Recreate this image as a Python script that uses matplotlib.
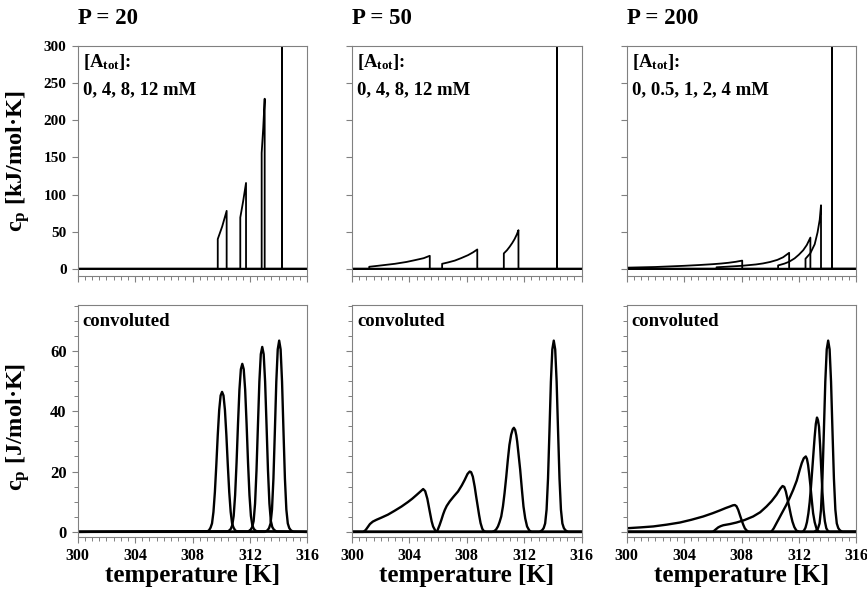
import matplotlib
matplotlib.use('Agg')
import matplotlib.pyplot as plt
from matplotlib.ticker import MultipleLocator

plt.rcParams['font.family'] = 'serif'
plt.rcParams['font.serif'] = ['Liberation Serif', 'DejaVu Serif']
plt.rcParams['font.weight'] = 'bold'
plt.rcParams['mathtext.fontset'] = 'custom'
plt.rcParams['mathtext.rm'] = 'Liberation Serif:bold'
plt.rcParams['mathtext.it'] = 'Liberation Serif:bold'
plt.rcParams['mathtext.bf'] = 'Liberation Serif:bold'

# ---- raw cp curves [kJ/mol/K], top row ----
# P = 20 ; 12, 8, 4, 0 mM
t20_12 = [300, 309.76, 309.76, 310.07, 310.38, 310.38, 316]
cp20_12 = [0, 0, 40, 57, 78, 0, 0]
t20_8 = [300, 311.33, 311.33, 311.53, 311.73, 311.73, 316]
cp20_8 = [0, 0, 69, 91, 115.6, 0, 0]
t20_4 = [300, 312.82, 312.82, 312.93, 313.03, 313.03, 316]
cp20_4 = [0, 0, 156, 190, 229, 0, 0]
t20_0 = [300, 314.27, 314.27, 314.27, 316]
cp20_0 = [0, 0, 340, 0, 0]

# P = 50 ; 12, 8, 4, 0 mM
t50_12 = [300, 301.2, 301.2, 301.8, 302.99, 303.8, 304.38, 305.0, 305.42, 305.42, 316]
cp50_12 = [0, 0, 2.7, 4, 6.7, 9.2, 11.6, 14.3, 17.5, 0, 0]
t50_8 = [300, 306.28, 306.28, 306.7, 307.16, 307.6, 308.08, 308.45, 308.73, 308.73, 316]
cp50_8 = [0, 0, 6.7, 8.6, 11, 14.3, 18.3, 22.3, 26, 0, 0]
t50_4 = [300, 310.58, 310.58, 310.8, 310.98, 311.16, 311.33, 311.48, 311.6, 311.6, 316]
cp50_4 = [0, 0, 20.7, 25, 29.5, 34.5, 40, 46, 52, 0, 0]
t50_0 = [300, 314.29, 314.29, 314.29, 316]
cp50_0 = [0, 0, 340, 0, 0]

# P = 200 ; 4, 2, 1, 0.5, 0 mM
t200_4 = [300, 302, 304, 305, 306, 306.6, 307.1, 307.6, 308.05, 308.05, 316]
cp200_4 = [1.5, 2.4, 4, 5, 6.2, 7.1, 8.1, 9.4, 11, 0, 0]
t200_2 = [300, 306.26, 306.26, 307, 308, 309, 309.5, 310, 310.5, 310.9, 311.32, 311.32, 316]
cp200_2 = [0, 0, 2, 2.8, 4, 5.8, 7.2, 9.2, 12, 15.5, 21.5, 0, 0]
t200_1 = [300, 310.55, 310.55, 311.0, 311.32, 311.7, 312.0, 312.3, 312.55, 312.8, 312.8, 316]
cp200_1 = [0, 0, 4.5, 7, 9.5, 14, 19, 25, 32, 42, 0, 0]
t200_05 = [300, 312.46, 312.46, 312.8, 313.1, 313.3, 313.45, 313.54, 313.54, 316]
cp200_05 = [0, 0, 13.5, 21, 33, 49, 66, 85.5, 0, 0]
t200_0 = [300, 314.29, 314.29, 314.29, 316]
cp200_0 = [0, 0, 340, 0, 0]

# ---- convoluted cp curves [J/mol/K], bottom row ----
# P = 20
c20_t12 = [300, 309.06, 309.16, 309.26, 309.36, 309.46, 309.56, 309.66, 309.76, 309.86, 309.96, 310.06,
           310.16, 310.26, 310.36, 310.46, 310.56, 310.66, 310.76, 310.86, 310.96, 311.06, 316]
c20_cp12 = [0, 0.2, 0.6, 1.4, 2.8, 6.6, 13.2, 22.2, 32.1, 40.4, 45.2, 46.4,
            45.2, 40.4, 32.1, 22.2, 13.2, 6.6, 2.8, 1.4, 0.6, 0.2, 0]
c20_t8 = [300, 310.47, 310.57, 310.67, 310.77, 310.87, 310.97, 311.07, 311.17, 311.27, 311.37, 311.47,
          311.57, 311.67, 311.77, 311.87, 311.97, 312.07, 312.17, 312.27, 312.37, 312.47, 316]
c20_cp8 = [0, 0.2, 0.5, 1.0, 2.2, 5.3, 12.2, 22.9, 35.7, 47.1, 53.9, 55.7,
           53.9, 47.1, 35.7, 22.9, 12.2, 5.3, 2.2, 1.0, 0.5, 0.2, 0]
c20_t4 = [300, 311.86, 311.96, 312.06, 312.16, 312.26, 312.36, 312.46, 312.56, 312.66, 312.76, 312.86,
          312.96, 313.06, 313.16, 313.26, 313.36, 313.46, 313.56, 313.66, 313.76, 313.86, 316]
c20_cp4 = [0, 0.1, 0.4, 0.8, 1.6, 3.6, 9.4, 20.4, 35.3, 49.8, 58.9, 61.3,
           58.9, 49.8, 35.3, 20.4, 9.4, 3.6, 1.6, 0.8, 0.4, 0.1, 0]
c20_t0 = [300, 313.04, 313.14, 313.24, 313.34, 313.44, 313.54, 313.64, 313.74, 313.84, 313.94, 314.04,
          314.14, 314.24, 314.34, 314.44, 314.54, 314.64, 314.74, 314.84, 314.94, 315.04, 316]
c20_cp0 = [0, 0, 0.25, 0.6, 1.3, 2.8, 7.4, 17.7, 33.4, 49.8, 60.5, 63.4,
           60.5, 49.8, 33.4, 17.7, 7.4, 2.8, 1.3, 0.6, 0.25, 0, 0]

# P = 50
c50_t12 = [300, 300.79, 300.95, 301.1, 301.25, 301.45, 301.7, 302.04, 302.5, 302.97, 303.45, 303.9,
           304.2, 304.49, 304.75, 304.96, 305.1, 305.25, 305.42, 305.55, 305.65, 305.84, 306.0, 316]
c50_cp12 = [0, 0, 0.6, 1.6, 2.6, 3.4, 4.0, 4.7, 5.7, 7.0, 8.4, 9.9,
            11.0, 12.2, 13.3, 14.2, 13.5, 11.0, 6.7, 3.5, 1.8, 0.1, 0, 0]
c50_t8 = [300, 305.85, 305.95, 306.1, 306.23, 306.35, 306.46, 306.6, 306.81, 307.1, 307.39, 307.65,
          307.85, 308.05, 308.2, 308.3, 308.42, 308.55, 308.65, 308.75, 308.86, 308.96, 309.08, 309.2,
          309.35, 316]
c50_cp8 = [0, 0, 0.4, 2.2, 4.0, 5.8, 7.2, 8.6, 10.1, 11.8, 13.4, 15.4,
           17.2, 19.2, 20.0, 19.8, 18.3, 15.0, 11.8, 8.8, 5.5, 2.9, 1.0, 0.2,
           0, 0]
c50_t4 = [300, 309.75, 309.89, 310.03, 310.17, 310.28, 310.4, 310.52, 310.63, 310.75, 310.86, 310.97,
          311.09, 311.2, 311.28, 311.37, 311.45, 311.51, 311.6, 311.72, 311.85, 311.95, 312.07, 312.2,
          312.35, 312.5, 316]
c50_cp4 = [0, 0, 0.2, 0.7, 1.8, 3.2, 5.1, 8.5, 12.8, 18.3, 23.9, 28.8,
           32.2, 34.0, 34.5, 33.8, 32.0, 30.0, 26.0, 20.6, 13.5, 8.4, 4.5, 1.8,
           0.5, 0, 0]
c50_t0 = [300, 313.06, 313.16, 313.26, 313.36, 313.46, 313.56, 313.66, 313.76, 313.86, 313.96, 314.06,
          314.16, 314.26, 314.36, 314.46, 314.56, 314.66, 314.76, 314.86, 314.96, 315.06, 316]
c50_cp0 = [0, 0, 0.25, 0.6, 1.3, 2.8, 7.4, 17.7, 33.4, 49.8, 60.5, 63.4,
           60.5, 49.8, 33.4, 17.7, 7.4, 2.8, 1.3, 0.6, 0.25, 0, 0]

# P = 200
c200_t4 = [300, 301, 301.85, 302.8, 303.71, 304.5, 305.33, 306.0, 306.49, 306.9, 307.19, 307.4,
           307.54, 307.65, 307.77, 307.88, 308.0, 308.12, 308.23, 308.35, 308.47, 308.6, 316]
c200_cp4 = [1.2, 1.5, 1.8, 2.4, 3.1, 4.0, 5.1, 6.2, 7.1, 7.9, 8.4, 8.8,
            8.9, 8.5, 7.3, 5.7, 4.0, 2.4, 1.2, 0.5, 0.1, 0, 0]
c200_t2 = [300, 305.9, 306.03, 306.2, 306.38, 306.55, 306.73, 307.2, 307.65, 308.2, 308.81, 309.3,
           309.74, 310.1, 310.44, 310.7, 310.86, 310.98, 311.09, 311.2, 311.32, 311.44, 311.55, 311.68,
           311.83, 312.06, 316]
c200_cp2 = [0, 0, 0.1, 0.8, 1.5, 1.9, 2.2, 2.6, 3.1, 3.9, 5.1, 6.5,
            8.4, 10.2, 12.3, 14.3, 15.2, 14.9, 13.4, 11.0, 8.4, 5.6, 3.4, 1.6,
            0.4, 0, 0]
c200_t1 = [300, 309.95, 310.09, 310.25, 310.44, 310.6, 310.79, 311.13, 311.35, 311.6, 311.85, 312.06,
           312.2, 312.34, 312.48, 312.56, 312.64, 312.72, 312.81, 312.9, 312.99, 313.1, 313.22, 313.35,
           313.45, 316]
c200_cp1 = [0, 0, 0.1, 1.2, 2.9, 4.3, 6.0, 9.0, 11.2, 13.9, 17.0, 20.6,
            22.8, 24.4, 25.0, 24.2, 22.2, 19.0, 15.0, 10.4, 6.2, 3.2, 1.2, 0.3,
            0, 0]
c200_t05 = [300, 312.25, 312.36, 312.46, 312.56, 312.66, 312.75, 312.84, 312.93, 313.02, 313.1, 313.18,
            313.26, 313.33, 313.4, 313.48, 313.56, 313.64, 313.72, 313.81, 313.91, 314.02, 314.14, 316]
c200_cp05 = [0, 0, 0.5, 1.4, 3.2, 6.1, 9.8, 14.8, 20.6, 26.5, 31.6, 35.8,
             37.9, 37.0, 34.9, 28.5, 20.6, 13.0, 7.3, 3.5, 1.2, 0.3, 0, 0]
c200_t0 = [300, 313.04, 313.14, 313.24, 313.34, 313.44, 313.54, 313.64, 313.74, 313.84, 313.94, 314.04,
           314.14, 314.24, 314.34, 314.44, 314.54, 314.64, 314.74, 314.84, 314.94, 315.04, 316]
c200_cp0 = [0, 0, 0.25, 0.6, 1.3, 2.8, 7.4, 17.7, 33.4, 49.8, 60.5, 63.4,
            60.5, 49.8, 33.4, 17.7, 7.4, 2.8, 1.3, 0.6, 0.25, 0, 0]

titles = ['P = 20', 'P = 50', 'P = 200']
conc_labels = ['0, 4, 8, 12 mM', '0, 4, 8, 12 mM', '0, 0.5, 1, 2, 4 mM']

raw_curves = [
    [(t20_12, cp20_12), (t20_8, cp20_8), (t20_4, cp20_4), (t20_0, cp20_0)],
    [(t50_12, cp50_12), (t50_8, cp50_8), (t50_4, cp50_4), (t50_0, cp50_0)],
    [(t200_4, cp200_4), (t200_2, cp200_2), (t200_1, cp200_1), (t200_05, cp200_05), (t200_0, cp200_0)],
]
conv_curves = [
    [(c20_t12, c20_cp12), (c20_t8, c20_cp8), (c20_t4, c20_cp4), (c20_t0, c20_cp0)],
    [(c50_t12, c50_cp12), (c50_t8, c50_cp8), (c50_t4, c50_cp4), (c50_t0, c50_cp0)],
    [(c200_t4, c200_cp4), (c200_t2, c200_cp2), (c200_t1, c200_cp1), (c200_t05, c200_cp05), (c200_t0, c200_cp0)],
]

fig = plt.figure(figsize=(8.67, 5.91), dpi=100)
W, H = 867, 591
lefts = [77.7, 352, 626.7]
ax_w = 229.6
spine_col = '#808080'

for i in range(3):
    ax_top = fig.add_axes([lefts[i] / W, 1 - 276.5 / H, ax_w / W, 230.5 / H])
    ax_bot = fig.add_axes([lefts[i] / W, 1 - 537 / H, ax_w / W, 232 / H])

    for t, cp in raw_curves[i]:
        ax_top.plot(t, cp, color='black', lw=1.3)
    for t, cp in conv_curves[i]:
        ax_bot.plot(t, cp, color='black', lw=1.7)

    ax_top.set_ylim(-10.4, 300)
    ax_bot.set_ylim(-1.7, 75.2)
    for ax in (ax_top, ax_bot):
        ax.set_xlim(300, 316)
        ax.xaxis.set_major_locator(MultipleLocator(4))
        ax.xaxis.set_minor_locator(MultipleLocator(0.5))
        for s in ax.spines.values():
            s.set_color(spine_col)
            s.set_linewidth(0.8)
        ax.tick_params(which='major', direction='out', length=4.5, width=0.8, color=spine_col,
                       top=False, right=False)
        ax.tick_params(which='minor', direction='out', length=3, width=0.7, color=spine_col,
                       top=False, right=False)
    ax_top.yaxis.set_major_locator(MultipleLocator(50))
    ax_bot.yaxis.set_major_locator(MultipleLocator(20))
    ax_bot.yaxis.set_minor_locator(MultipleLocator(5))

    ax_top.tick_params(axis='x', labelbottom=False)
    ax_top.tick_params(axis='y', labelsize=11)
    ax_bot.tick_params(axis='y', labelsize=12)
    ax_bot.tick_params(axis='x', labelsize=11.5)
    if i > 0:
        ax_top.tick_params(axis='y', labelleft=False)
        ax_bot.tick_params(axis='y', labelleft=False)
    else:
        ax_top.set_ylabel(r'c$_\mathrm{p}$ [kJ/mol·K]', fontsize=17.5, fontweight='bold')
        ax_top.yaxis.set_label_coords(-0.2, 0.5)
        ax_bot.set_ylabel(r'c$_\mathrm{p}$ [J/mol·K]', fontsize=17.5, fontweight='bold')
        ax_bot.yaxis.set_label_coords(-0.2, 0.475)

    ax_bot.set_xlabel('temperature [K]', fontsize=18, fontweight='bold')
    ax_bot.xaxis.set_label_coords(0.5, -0.115)

    ax_top.text(-0.0, 1.12, titles[i], transform=ax_top.transAxes, ha='left', va='center',
                fontsize=16.5, fontweight='bold')
    ax_top.text(0.022, 0.931, r'[A$_\mathrm{tot}$]:', transform=ax_top.transAxes, ha='left',
                va='center', fontsize=13.5, fontweight='bold')
    ax_top.text(0.022, 0.81, conc_labels[i], transform=ax_top.transAxes, ha='left',
                va='center', fontsize=13.5, fontweight='bold')
    ax_bot.text(0.022, 0.931, 'convoluted', transform=ax_bot.transAxes, ha='left',
                va='center', fontsize=13.5, fontweight='bold')

fig.savefig('out.png', dpi=100)
